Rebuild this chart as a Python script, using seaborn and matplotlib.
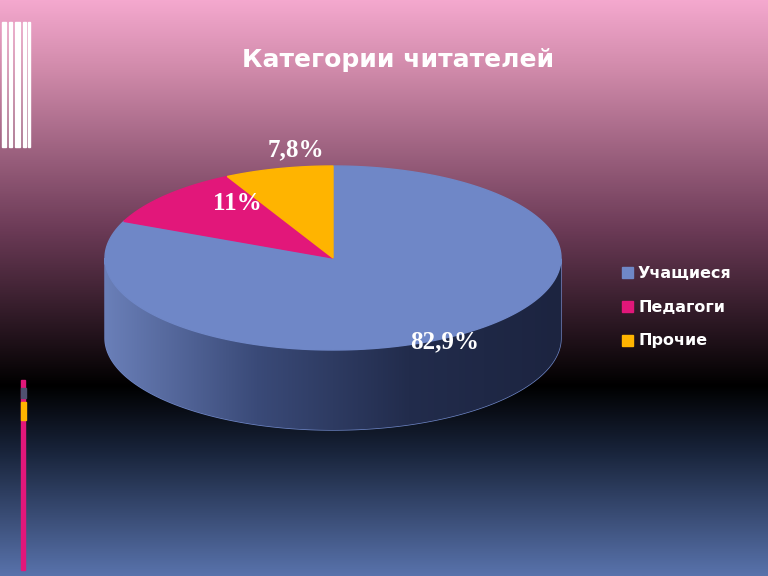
import numpy as np
import matplotlib.pyplot as plt
import seaborn as sns
from matplotlib.colors import LinearSegmentedColormap
from matplotlib.patches import Polygon, Rectangle

sns.set_theme(style="white")

title = "Категории читателей"
categories = ["Учащиеся", "Педагоги", "Прочие"]
values = [82.9, 11.0, 7.8]
labels = ["82,9%", "11%", "7,8%"]
colors = ["#6f87c7", "#e2177a", "#ffb400"]

W, H = 768, 576
fig = plt.figure(figsize=(7.68, 5.76), dpi=100)
ax = fig.add_axes([0, 0, 1, 1])
ax.set_xlim(0, W)
ax.set_ylim(H, 0)
ax.axis("off")

# background gradient
bg = LinearSegmentedColormap.from_list("bg", [
    (0.0, "#f4a8ce"), (0.12, "#d08aaa"), (0.4, "#6b3a56"),
    (0.67, "#000000"), (0.78, "#172238"), (1.0, "#5872ab")])
grad = np.linspace(0, 1, 256).reshape(-1, 1)
ax.imshow(grad, cmap=bg, extent=[0, W, H, 0], aspect="auto", zorder=0)

# left side decorations
for x0, w in [(2, 4), (9, 3), (15, 5), (23, 3), (28, 2)]:
    ax.add_patch(Rectangle((x0, 22), w, 125, color="white", zorder=1))
ax.add_patch(Rectangle((21, 380), 4, 190, color="#e2177a", zorder=1))
ax.add_patch(Rectangle((21, 388), 5, 10, color="#505070", zorder=1))
ax.add_patch(Rectangle((21, 402), 5, 18, color="#ffb400", zorder=1))

# 3D pie
cx, cy, rx, ry, depth = 333, 258, 228, 92, 80
fracs = np.array(values) / sum(values)
start = 90.0
angles = []
for f in fracs:
    end = start - 360 * f
    angles.append((start, end))
    start = end

def pt(a):
    r = np.radians(a)
    return cx + rx * np.cos(r), cy - ry * np.sin(r)

shade = LinearSegmentedColormap.from_list("s", ["#6a7fb8", "#3a4a78", "#222c4c", "#1c2440"])
# side wall: visible front half of each slice
for (a0, a1), c in zip(angles, colors):
    t = np.linspace(a0, a1, 400)
    t = t[np.sin(np.radians(t)) <= 0]
    if len(t) < 2:
        continue
    top = [pt(a) for a in t]
    bot = [(x, y + depth) for x, y in top[::-1]]
    poly = Polygon(top + bot, closed=True, color=c, zorder=2)
    ax.add_patch(poly)
    im = ax.imshow(np.linspace(0, 1, 256).reshape(1, -1), cmap=shade,
                   extent=[cx - rx, cx + rx, cy + ry + depth, cy], aspect="auto", zorder=2)
    im.set_clip_path(poly)

# top faces
for (a0, a1), c in zip(angles, colors):
    t = np.linspace(a0, a1, 200)
    pts = [(cx, cy)] + [pt(a) for a in t]
    ax.add_patch(Polygon(pts, closed=True, color=c, zorder=3))

label_pos = [(445, 342), (237, 203), (296, 150)]
for (x, y), lab in zip(label_pos, labels):
    ax.text(x, y, lab, color="white", fontsize=18, fontweight="bold",
            family="Liberation Serif", ha="center", va="center", zorder=5)

ax.text(398, 60, title, color="white", fontsize=18, fontweight="bold",
        family="DejaVu Sans", ha="center", va="center", zorder=5)

for i, (cat, c) in enumerate(zip(categories, colors)):
    y = 273 + i * 34
    ax.add_patch(Rectangle((622, y - 6), 11, 11, color=c, zorder=5))
    ax.text(638, y, cat, color="white", fontsize=11.5, fontweight="bold",
            family="DejaVu Sans", va="center", zorder=5)

fig.savefig("out.png", dpi=100)
